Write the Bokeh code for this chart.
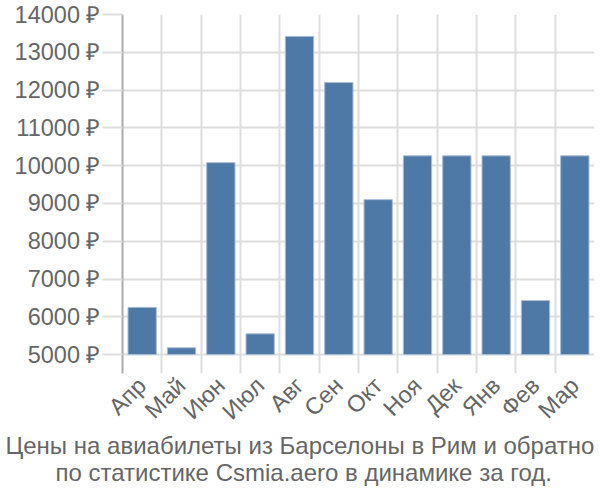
from bokeh.plotting import figure
from bokeh.models import Range1d, FixedTicker, Title
from bokeh.embed import file_html
from bokeh.resources import INLINE
import math

months = ["Апр", "Май", "Июн", "Июл", "Авг", "Сен", "Окт", "Ноя", "Дек", "Янв", "Фев", "Мар"]
prices = [6250, 5180, 10080, 5550, 13420, 12200, 9100, 10260, 10260, 10260, 6430, 10260]
y_ticks = [5000, 6000, 7000, 8000, 9000, 10000, 11000, 12000, 13000, 14000]
title_lines = ["Цены на авиабилеты из Барселоны в Рим и обратно",
               "по статистике Csmia.aero в динамике за год."]

FONT = "Liberation Sans"
GREY = "#666666"

p = figure(width=600, height=500, output_backend="svg", toolbar_location=None,
           x_range=Range1d(0, len(months)), y_range=Range1d(4500, 14000))
p.min_border_left = 122
p.min_border_right = 6
p.min_border_top = 14
p.min_border_bottom = 127
p.outline_line_color = None
p.background_fill_color = "white"

xs = [i + 0.5 for i in range(len(months))]
p.vbar(x=xs, top=prices, bottom=5000, width=0.72, fill_color="#4e78a6",
       line_color="#a9bdd6", line_width=1)

# x axis: labels at bar centres
p.xaxis.ticker = FixedTicker(ticks=xs)
p.xaxis.major_label_overrides = {x: m for x, m in zip(xs, months)}
p.xaxis.major_label_orientation = math.pi / 4
p.xaxis.axis_line_color = None
p.xaxis.major_tick_line_color = None
p.xaxis.minor_tick_line_color = None
p.xaxis.major_label_text_font = FONT
p.xaxis.major_label_text_font_size = "23.5px"
p.xaxis.major_label_text_color = GREY
p.xaxis.major_label_standoff = 2

p.xgrid.ticker = FixedTicker(ticks=list(range(len(months) + 1)))
p.xgrid.grid_line_color = "#dddddd"
p.xgrid.grid_line_width = 2

# y axis
p.yaxis.ticker = FixedTicker(ticks=y_ticks)
p.yaxis.major_label_overrides = {t: f"{t} ₽" for t in y_ticks}
p.yaxis.axis_line_color = "#aaaaaa"
p.yaxis.axis_line_width = 2
p.yaxis.major_tick_line_color = "#dddddd"
p.yaxis.major_tick_line_width = 2
p.yaxis.major_tick_out = 20
p.yaxis.major_tick_in = 0
p.yaxis.minor_tick_line_color = None
p.yaxis.major_label_text_font = FONT
p.yaxis.major_label_text_font_size = "23.5px"
p.yaxis.major_label_text_color = GREY
p.yaxis.major_label_standoff = 2

p.ygrid.ticker = FixedTicker(ticks=y_ticks)
p.ygrid.grid_line_color = "#dddddd"
p.ygrid.grid_line_width = 2

offsets = [-117, -67]
standoffs = [-14, 10]
for line, off, so in zip(title_lines, offsets, standoffs):
    t = Title(text=line, align="left", text_font=FONT, text_font_size="24px",
              text_color=GREY, text_font_style="normal", offset=off, standoff=so)
    p.add_layout(t, "below")

open("out.html", "w").write(file_html(p, INLINE))
